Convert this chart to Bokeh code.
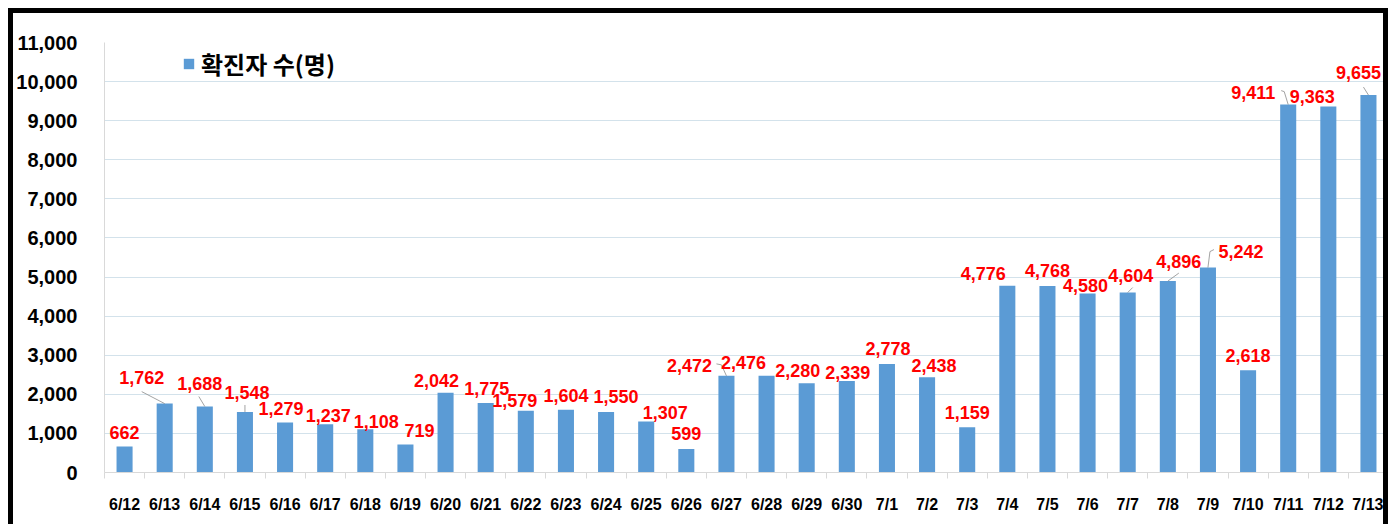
from bokeh.plotting import figure
from bokeh.models import (ColumnDataSource, FixedTicker, NumeralTickFormatter,
                          Range1d, Legend, LegendItem)
from bokeh.embed import file_html
from bokeh.resources import INLINE
from bokeh.core.properties import value

# ---- data ----
dates = ["6/12", "6/13", "6/14", "6/15", "6/16", "6/17", "6/18", "6/19",
         "6/20", "6/21", "6/22", "6/23", "6/24", "6/25", "6/26", "6/27",
         "6/28", "6/29", "6/30", "7/1", "7/2", "7/3", "7/4", "7/5",
         "7/6", "7/7", "7/8", "7/9", "7/10", "7/11", "7/12", "7/13"]
cases = [662, 1762, 1688, 1548, 1279, 1237, 1108, 719,
         2042, 1775, 1579, 1604, 1550, 1307, 599, 2472,
         2476, 2280, 2339, 2778, 2438, 1159, 4776, 4768,
         4580, 4604, 4896, 5242, 2618, 9411, 9363, 9655]
y_ticks = list(range(0, 11001, 1000))
series_name = "확진자 수(명)"

# ---- label placement (pixel offsets from bar top, style only) ----
label_dx = [0, -23, -5, 2, -4, 3, 11, 14, -9, 1, -11, 0, 10, 19, 0, -37,
            -23, -9, 1, 1, 7, 0, -24, 0, -2, 3, 11, 33, 0, -35, -16, -10]
label_dy = [-14, -26, -23, -19, -14, -9, -8, -14, -12, -15, -10, -14, -15, -9, -16, -10,
            -13, -13, -9, -15, -12, -15, -12, -16, -8, -17, -20, -16, -15, -12, -10, -23]
leaders = {1: [(0, 0), (-23, -12)], 2: [(0, 0), (-6, -10)], 3: [(0, 0), (0, -7)],
           15: [(0, 0), (-5, -11), (-10, -12)], 25: [(0, 0), (5, -5)],
           26: [(0, 0), (11, -8)], 27: [(0, 0), (2, -16), (6, -18)],
           29: [(0, 0), (-4, -13), (-7, -14)], 31: [(0, 0), (-5, -8)]}

X_START, X_END = -0.5, 31.375
FRAME_W, FRAME_H = 1280, 430
Y_MAX = 11000

xs = list(range(len(dates)))
src = ColumnDataSource(dict(
    x=xs, cases=cases, date=dates,
    label=[f"{v:,}" for v in cases],
    dx=label_dx, dy=label_dy,
))

p = figure(width=1370, height=511,
           x_range=Range1d(X_START, X_END), y_range=Range1d(0, Y_MAX),
           output_backend="svg", toolbar_location=None,
           min_border_left=90, min_border_right=0,
           min_border_top=29, min_border_bottom=52)
# thick black outer frame drawn as a CSS outline (does not change layout)
p.styles = {"margin-left": "13px", "margin-top": "13px",
            "outline": "5px solid #000"}
p.outline_line_color = None
p.background_fill_color = "white"
p.border_fill_color = "white"

# grid
yt = FixedTicker(ticks=y_ticks)
p.xgrid.visible = False
p.ygrid.ticker = yt
p.ygrid.grid_line_color = "#D3E2EB"
p.ygrid.grid_line_width = 1

# y axis
p.yaxis.ticker = yt
p.yaxis.formatter = NumeralTickFormatter(format="0,0")
p.yaxis.axis_line_color = "#D9D9D9"
p.yaxis.major_tick_line_color = None
p.yaxis.minor_tick_line_color = None
p.yaxis.major_tick_out = 0
p.yaxis.major_label_standoff = 27
p.yaxis.major_label_text_font = "Liberation Sans"
p.yaxis.major_label_text_font_style = "bold"
p.yaxis.major_label_text_font_size = "20px"
p.yaxis.major_label_text_color = "black"

# x axis
p.xaxis.ticker = FixedTicker(ticks=xs, minor_ticks=[i - 0.5 for i in range(len(dates) + 1)])
p.xaxis.major_label_overrides = {i: d for i, d in enumerate(dates)}
p.xaxis.axis_line_color = "#D9D9D9"
p.xaxis.major_tick_line_color = None
p.xaxis.major_tick_out = 0
p.xaxis.major_tick_in = 0
p.xaxis.minor_tick_line_color = "#D9D9D9"
p.xaxis.minor_tick_out = 6
p.xaxis.minor_tick_in = 0
p.xaxis.major_label_standoff = 17
p.xaxis.major_label_text_font = "Liberation Sans"
p.xaxis.major_label_text_font_style = "bold"
p.xaxis.major_label_text_font_size = "16px"
p.xaxis.major_label_text_color = "black"

# bars
bars = p.vbar(x="x", top="cases", width=0.4, source=src,
              fill_color="#5B9BD5", line_color=None)

# leader lines (pixel offsets converted via the scales)
px_x = (X_END - X_START) / FRAME_W
px_y = Y_MAX / FRAME_H
lx, ly = [], []
for i, pts in leaders.items():
    lx.append([xs[i] + ox * px_x for ox, oy in pts])
    ly.append([cases[i] - oy * px_y for ox, oy in pts])
p.multi_line(lx, ly, line_color="#8C8C8C", line_width=0.8)

# data labels
p.text(x="x", y="cases", text="label", x_offset="dx", y_offset="dy", source=src,
       text_align="center", text_baseline="middle", text_color="#FF0000",
       text_font=value("Liberation Sans"), text_font_style="bold",
       text_font_size="18px")

legend = Legend(items=[LegendItem(label=series_name, renderers=[bars])],
                location=(78, 391), orientation="horizontal")
legend.background_fill_alpha = 0
legend.border_line_color = None
legend.padding = 0
legend.margin = 0
legend.glyph_width = 13
legend.glyph_height = 13
legend.label_standoff = 6
legend.label_text_font = "Noto Sans CJK KR"
legend.label_text_font_style = "bold"
legend.label_text_font_size = "24px"
legend.label_text_color = "black"
p.add_layout(legend)

open("out.html", "w").write(file_html(p, INLINE, "chart"))
